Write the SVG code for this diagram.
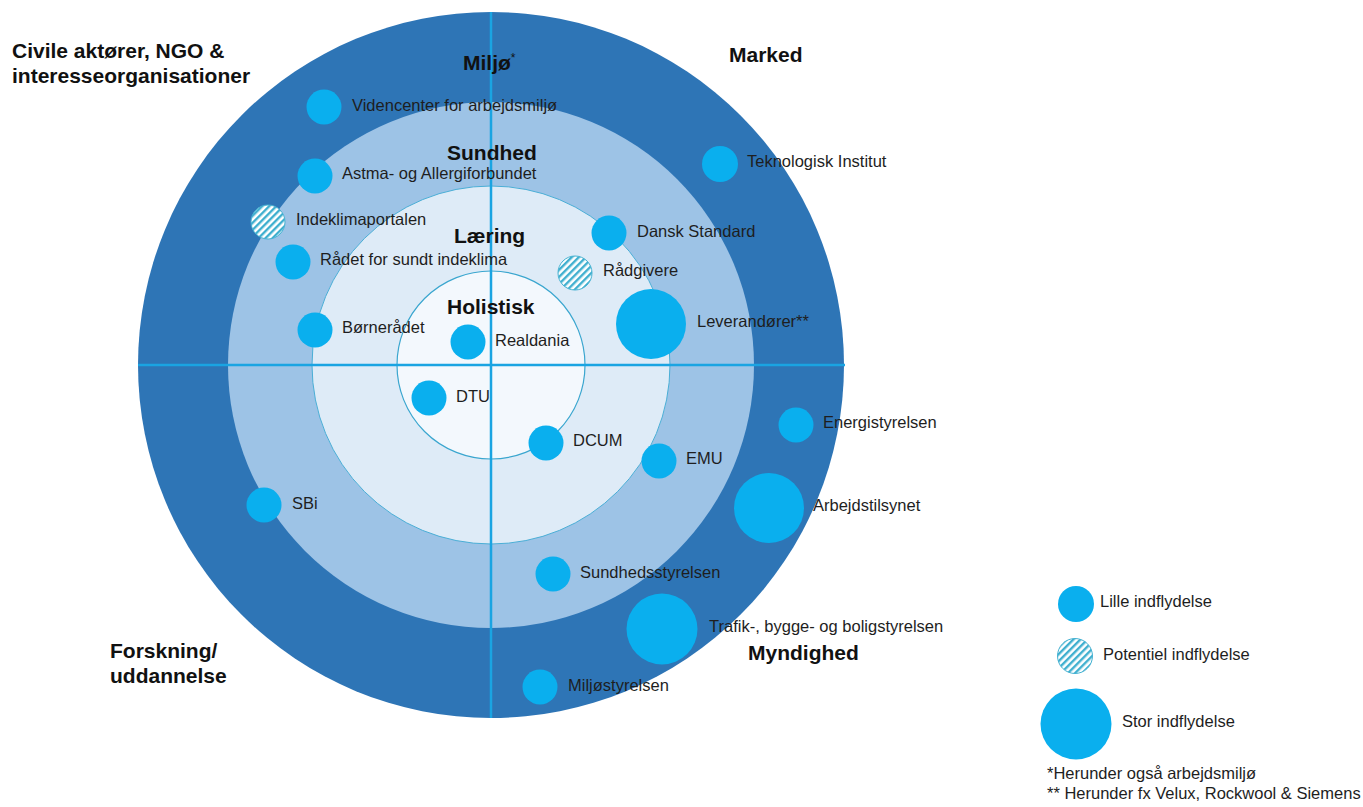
<svg xmlns="http://www.w3.org/2000/svg" width="1363" height="807" viewBox="0 0 1363 807">
<defs>
<pattern id="hatch" patternUnits="userSpaceOnUse" width="5" height="5" patternTransform="rotate(45)">
<rect width="5" height="5" fill="#ffffff"/>
<rect width="2.4" height="5" fill="#3FAFCF"/>
</pattern>
<style>
.bub{fill:#0AAFEE}
.hat{fill:url(#hatch);stroke:#45B2D2;stroke-width:1}
.t{font-family:"Liberation Sans",Arial,sans-serif;font-size:16.5px;fill:#1E1E1E}
.b{font-family:"Liberation Sans",Arial,sans-serif;font-size:21px;font-weight:bold;fill:#111}
.axis{stroke:#1AA4E2;stroke-width:2.5;fill:none}
</style>
</defs>
<rect width="1363" height="807" fill="#ffffff"/>
<g id="rings">
<circle cx="491" cy="365" r="353" fill="#2E75B6"/>
<circle cx="491" cy="365" r="263" fill="#9DC3E6"/>
<circle cx="491" cy="365" r="179" fill="#DEEBF7" stroke="#4AAED6" stroke-width="1"/>
<circle cx="491" cy="365" r="94" fill="#F3F8FD" stroke="#3AA6CF" stroke-width="1.2"/>
</g>
<g id="connectors">
<line class="axis" x1="138" y1="365" x2="845" y2="365"/>
<line class="axis" x1="491" y1="12" x2="491" y2="718"/>
</g>
<g id="labels">
<text class="b" x="12" y="58">Civile aktører, NGO &amp;</text>
<text class="b" x="12" y="83">interesseorganisationer</text>
<text class="b" x="729" y="62">Marked</text>
<text class="b" x="110" y="658">Forskning/</text>
<text class="b" x="110" y="683">uddannelse</text>
<text class="b" x="748" y="660">Myndighed</text>
<text class="b" x="463" y="70">Miljø<tspan font-size="12" dy="-8" font-weight="normal">*</tspan></text>
<text class="b" x="447" y="160">Sundhed</text>
<text class="b" x="454" y="243">Læring</text>
<text class="b" x="447" y="314">Holistisk</text>
</g>
<g id="n-videncenter"><circle class="bub" cx="324" cy="107" r="17.5"/><text class="t" x="352" y="111">Videncenter for arbejdsmiljø</text></g>
<g id="n-astma"><circle class="bub" cx="315" cy="176" r="17.5"/><text class="t" x="342" y="179">Astma- og Allergiforbundet</text></g>
<g id="n-indeklimaportalen"><circle class="hat" cx="268" cy="222" r="17"/><text class="t" x="296" y="225">Indeklimaportalen</text></g>
<g id="n-raadet"><circle class="bub" cx="293" cy="262" r="17.5"/><text class="t" x="320" y="265">Rådet for sundt indeklima</text></g>
<g id="n-boernraadet"><circle class="bub" cx="315" cy="330" r="17.5"/><text class="t" x="342" y="333">Børnerådet</text></g>
<g id="n-realdania"><circle class="bub" cx="468" cy="342" r="17.5"/><text class="t" x="495" y="346">Realdania</text></g>
<g id="n-dtu"><circle class="bub" cx="429" cy="398" r="17.5"/><text class="t" x="456" y="402">DTU</text></g>
<g id="n-dcum"><circle class="bub" cx="546" cy="443" r="17.5"/><text class="t" x="573" y="446">DCUM</text></g>
<g id="n-emu"><circle class="bub" cx="659" cy="461" r="17.5"/><text class="t" x="686" y="464">EMU</text></g>
<g id="n-sbi"><circle class="bub" cx="264" cy="505" r="17.5"/><text class="t" x="292" y="509">SBi</text></g>
<g id="n-sundhedsstyrelsen"><circle class="bub" cx="553" cy="574" r="17.5"/><text class="t" x="580" y="578">Sundhedsstyrelsen</text></g>
<g id="n-trafik"><circle class="bub" cx="662" cy="629" r="35.5"/><text class="t" x="709" y="632">Trafik-, bygge- og boligstyrelsen</text></g>
<g id="n-miljoestyrelsen"><circle class="bub" cx="540" cy="687" r="17.5"/><text class="t" x="568" y="691">Miljøstyrelsen</text></g>
<g id="n-teknologisk"><circle class="bub" cx="720" cy="164" r="18"/><text class="t" x="747" y="167">Teknologisk Institut</text></g>
<g id="n-dansk-standard"><circle class="bub" cx="609" cy="233" r="17.5"/><text class="t" x="637" y="237">Dansk Standard</text></g>
<g id="n-raadgivere"><circle class="hat" cx="575" cy="273" r="17"/><text class="t" x="603" y="276">Rådgivere</text></g>
<g id="n-leverandoerer"><circle class="bub" cx="651" cy="324" r="35"/><text class="t" x="697" y="327">Leverandører**</text></g>
<g id="n-energistyrelsen"><circle class="bub" cx="796" cy="425" r="17.5"/><text class="t" x="823" y="428">Energistyrelsen</text></g>
<g id="n-arbejdstilsynet"><circle class="bub" cx="769" cy="508" r="35"/><text class="t" x="813" y="511">Arbejdstilsynet</text></g>
<g id="legend">
<g id="legend-lille"><circle class="bub" cx="1076" cy="604" r="18"/><text class="t" x="1100" y="607">Lille indflydelse</text></g>
<g id="legend-potentiel"><circle class="hat" cx="1075" cy="656" r="17.5"/><text class="t" x="1103" y="660">Potentiel indflydelse</text></g>
<g id="legend-stor"><circle class="bub" cx="1076" cy="724" r="35.5"/><text class="t" x="1122" y="727">Stor indflydelse</text></g>
<text class="t" x="1047" y="779">*Herunder også arbejdsmiljø</text>
<text class="t" x="1047" y="799">** Herunder fx Velux, Rockwool &amp; Siemens</text>
</g>
</svg>
